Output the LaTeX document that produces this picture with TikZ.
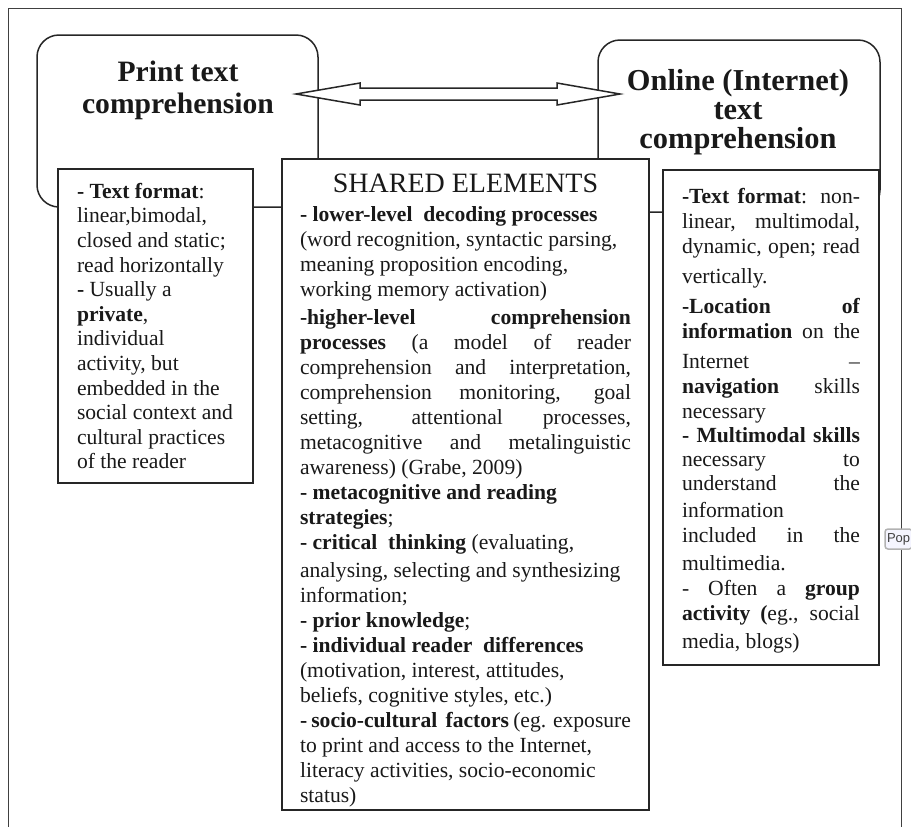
\documentclass[tikz,border=0pt]{standalone}
\usepackage{fontspec}
\setmainfont{Liberation Serif}
\newfontfamily\uifont{Liberation Sans}

% one justified line of a box
\newcommand{\jl}[1]{\makebox[\linewidth][s]{#1}}
\newcommand{\bodyfont}{\fontsize{10.8}{12.5}\selectfont}

\begin{document}
\begin{tikzpicture}[x=0.5pt,y=-0.5pt,line width=0.75pt,
    every node/.style={inner sep=0pt,outer sep=0pt},
    roundframe/.style={draw=black!85,rounded corners=11pt,minimum height=86pt},
    titletext/.style={align=center,text=black!90},
    textbox/.style={draw=black!85,fill=white,inner xsep=9.5pt,inner ysep=5pt,anchor=north west,text=black!90},
    blockarrow/.style={draw=black!85,fill=white,line join=miter}]
      \useasboundingbox (0,0) rectangle (911,826);

      %%%%%%%%%%%%%%%%%%%%%%%%%%%%%%%%%%%%%%%%%%%%%%%%%%%%%%%%%%%%%%%%%%%%%%%%%%
      %%% BEGIN: TITLE FRAMES.
      %%%%%%%%%%%%%%%%%%%%%%%%%%%%%%%%%%%%%%%%%%%%%%%%%%%%%%%%%%%%%%%%%%%%%%%%%%
      % Print side.
      \node[roundframe,minimum width=140.5pt] (printframe) at (177.5,121) {};
      \node[titletext,font=\fontsize{14.8}{16}\selectfont\bfseries] (printtitle) at (178,90)
        {Print text\\comprehension};

      % Online side.
      \node[roundframe,minimum width=141pt] (onlineframe) at (739,126) {};
      \node[titletext,font=\fontsize{15.2}{14.5}\selectfont\bfseries] (onlinetitle) at (738,112)
        {Online (Internet)\\text\\comprehension};

      % Double arrow between the two.
      \coordinate (arrL) at (296,94);
      \coordinate (arrR) at (620,94);
      \draw[blockarrow] (arrL) -- ++(64,-11) -- ++(0,5) -- ++(197,0) -- ++(0,-5)
        -- (arrR) -- ++(-63,11) -- ++(0,-5) -- ++(-197,0) -- ++(0,5) -- cycle;
      %%%%%%%%%%%%%%%%%%%%%%%%%%%%%%%%%%%%%%%%%%%%%%%%%%%%%%%%%%%%%%%%%%%%%%%%%%
      %%% END: TITLE FRAMES.
      %%%%%%%%%%%%%%%%%%%%%%%%%%%%%%%%%%%%%%%%%%%%%%%%%%%%%%%%%%%%%%%%%%%%%%%%%%

      %%%%%%%%%%%%%%%%%%%%%%%%%%%%%%%%%%%%%%%%%%%%%%%%%%%%%%%%%%%%%%%%%%%%%%%%%%
      %%% BEGIN: TEXT BOXES.
      %%%%%%%%%%%%%%%%%%%%%%%%%%%%%%%%%%%%%%%%%%%%%%%%%%%%%%%%%%%%%%%%%%%%%%%%%%
      % Print text box.
      \node[textbox] (printbox) at (58,169) {\parbox[t][147pt][t]{78.5pt}{%
        \fontsize{10.8}{12.3}\selectfont\raggedright
        \vspace*{2pt}
        \textbf{- Text format}:\\
        linear,bimodal,\\
        closed and static;\\
        read horizontally\\
        \textbf{-} Usually a\\
        \textbf{private},\\
        individual\\
        activity, but\\
        embedded in the\\
        social context and\\
        cultural practices\\
        of the reader}};

      % Shared elements box.
      \node[textbox,inner xsep=9pt] (sharedbox) at (282,159) {\parbox[t][315.5pt][t]{165.5pt}{%
        \vspace*{2.5pt}
        {\centering\fontsize{14}{16}\selectfont SHARED ELEMENTS\par}
        \vspace{2pt}
        \bodyfont\raggedright
        \textbf{- lower-level\ \ decoding processes}\\
        (word recognition, syntactic parsing,\\
        meaning proposition encoding,\\
        working memory activation)\\[1.5pt]
        \jl{\textbf{-higher-level comprehension}}\\
        \jl{\textbf{processes} (a model of reader}\\
        \jl{comprehension and interpretation,}\\
        \jl{comprehension monitoring, goal}\\
        \jl{setting, attentional processes,}\\
        \jl{metacognitive and metalinguistic}\\
        awareness) (Grabe, 2009)\\
        \textbf{- metacognitive and reading}\\
        \textbf{strategies};\\
        \textbf{- critical\ \ thinking} (evaluating,\\[1.5pt]
        analysing, selecting and synthesizing\\
        information;\\
        \textbf{- prior knowledge};\\
        \textbf{- individual reader\ \ differences}\\
        (motivation, interest, attitudes,\\
        beliefs, cognitive styles, etc.)\\
        \jl{\textbf{- socio-cultural\ \ factors} (eg. exposure}\\
        to print and access to the Internet,\\
        literacy activities, socio-economic\\
        status)}};

      % Online text box.
      \node[textbox] (onlinebox) at (663,170) {\parbox[t][237.5pt][t]{89pt}{\bodyfont\raggedright
        \vspace*{4pt}
        \jl{\textbf{-Text format}: non-}\\
        \jl{linear, multimodal,}\\
        \jl{dynamic, open; read}\\[2.5pt]
        vertically.\\[2.5pt]
        \jl{\textbf{-Location of}}\\
        \jl{\textbf{information} on the}\\[2.5pt]
        \jl{Internet –}\\
        \jl{\textbf{navigation} skills}\\
        necessary\\[-0.5pt]
        \jl{\textbf{- Multimodal skills}}\\[-0.5pt]
        \jl{necessary to}\\[-0.5pt]
        \jl{understand the}\\[1pt]
        information\\
        \jl{included in the}\\[1.5pt]
        multimedia.\\
        \jl{- Often a \textbf{group}}\\
        \jl{\textbf{activity (}eg., social}\\[1.5pt]
        media, blogs)}};
      %%%%%%%%%%%%%%%%%%%%%%%%%%%%%%%%%%%%%%%%%%%%%%%%%%%%%%%%%%%%%%%%%%%%%%%%%%
      %%% END: TEXT BOXES.
      %%%%%%%%%%%%%%%%%%%%%%%%%%%%%%%%%%%%%%%%%%%%%%%%%%%%%%%%%%%%%%%%%%%%%%%%%%

      % Page frame and the tooltip on its edge.
      \draw[line width=0.5pt,black!75] (8,830) -- (8,8) -- (901,8) -- (901,830);
      \node[draw=gray!60,fill=blue!4,rounded corners=1.5pt,anchor=north west,minimum height=10pt,
        inner xsep=1pt,font=\uifont\fontsize{6.5}{7}\selectfont,text=black!75] (popup) at (885,529)
        {Pop\hspace{8pt}};
    \end{tikzpicture}
\end{document}
